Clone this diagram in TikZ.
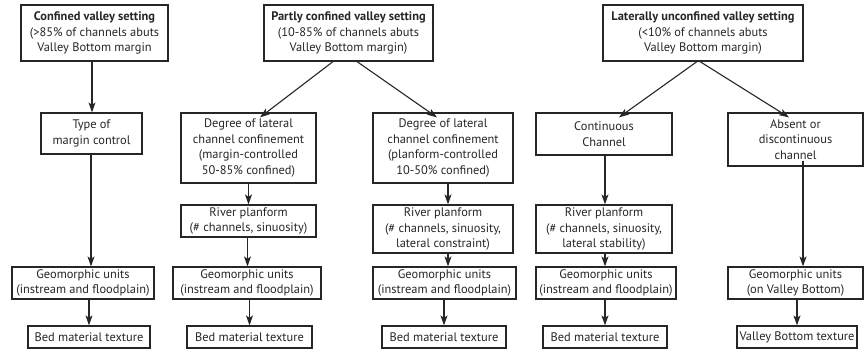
\documentclass[tikz,border=0pt]{standalone}
\usepackage{fontspec}
\setmainfont{PT Sans}
\usetikzlibrary{arrows.meta}
\definecolor{ln}{HTML}{262626}
\tikzset{
  box/.style={draw=ln, line width=1.2pt, align=center, inner sep=1pt, text=ln,
    font=\fontsize{12.4}{15.6}\selectfont},
  arr/.style={draw=ln, line width=1.1pt, -{Stealth[length=10pt,width=7pt,inset=2.5pt]}}
}
\begin{document}
\begin{tikzpicture}[x=1pt,y=-1pt]
\useasboundingbox (0,0) rectangle (865,352);
% top row
\node[box, minimum width=147pt, minimum height=56pt] (t1) at (94.5,33) {\textbf{Confined valley setting}\\(>85\% of channels abuts\\Valley Bottom margin};
\node[box, minimum width=169pt, minimum height=56pt] (t2) at (348.5,33) {\textbf{Partly confined valley setting}\\(10-85\% of channels abuts\\Valley Bottom margin)};
\node[box, minimum width=200pt, minimum height=56pt] (t3) at (703,33) {\textbf{Laterally unconfined valley setting}\\(<10\% of channels abuts\\Valley Bottom margin)};
% second row
\node[box, minimum width=101pt, minimum height=41pt] (type) at (91.5,133.5) {Type of\\margin control};
\node[box, minimum width=135pt, minimum height=70pt] (deg1) at (248.5,148) {Degree of lateral\\channel confinement\\(margin-controlled\\50-85\% confined)};
\node[box, minimum width=140pt, minimum height=70pt] (deg2) at (443,148) {Degree of lateral\\channel confinement\\(planform-controlled\\10-50\% confined)};
\node[box, minimum width=136pt, minimum height=42pt] (cont) at (604,134) {Continuous\\Channel};
\node[box, minimum width=135pt, minimum height=53pt] (abs) at (795.5,139.5) {Absent or\\discontinuous\\channel};
% river planform
\node[box, minimum width=135pt, minimum height=32pt] (riv1) at (248.5,221) {River planform\\(\# channels, sinuosity)};
\node[box, minimum width=140pt, minimum height=48pt] (riv2) at (443,229) {River planform\\(\# channels, sinuosity,\\lateral constraint)};
\node[box, minimum width=136pt, minimum height=48pt] (riv3) at (604,229) {River planform\\(\# channels, sinuosity,\\lateral stability)};
% geomorphic units
\node[box, minimum width=142pt, minimum height=32pt] (geo1) at (83,283) {Geomorphic units\\(instream and floodplain)};
\node[box, minimum width=148pt, minimum height=32pt] (geo2) at (247,283) {Geomorphic units\\(instream and floodplain)};
\node[box, minimum width=143pt, minimum height=32pt] (geo3) at (444.5,283) {Geomorphic units\\(instream and floodplain)};
\node[box, minimum width=140pt, minimum height=32pt] (geo4) at (606,283) {Geomorphic units\\(instream and floodplain)};
\node[box, minimum width=135pt, minimum height=32pt] (geo5) at (795.5,283) {Geomorphic units\\(on Valley Bottom)};
% texture
\node[box, minimum width=122pt, minimum height=22pt] (bed1) at (89,337) {Bed material texture};
\node[box, minimum width=125pt, minimum height=22pt] (bed2) at (249.5,337) {Bed material texture};
\node[box, minimum width=124pt, minimum height=22pt] (bed3) at (444,337) {Bed material texture};
\node[box, minimum width=124pt, minimum height=22pt] (bed4) at (605,337) {Bed material texture};
\node[box, minimum width=120pt, minimum height=22pt] (bed5) at (797,337) {Valley Bottom texture};
% arrows
\draw[arr] ([xshift=-2.5pt]t1.south) -- ([xshift=-2.5pt]t1.south |- type.north);
\draw[arr] ([xshift=-0.5pt]type.south) -- ([xshift=-0.5pt]type.south |- geo1.north);
\draw[arr] (bed1.north |- geo1.south) -- (bed1.north);
\draw[arr] ([xshift=-15.5pt]t2.south) -- ([xshift=11.5pt,yshift=-5pt]deg1.north);
\draw[arr] ([xshift=8.5pt]t2.south) -- ([xshift=-6pt,yshift=-5pt]deg2.north);
\draw[arr] (deg1.south) -- (riv1.north);
\draw[arr] ([xshift=-1pt]riv1.south) -- ([xshift=-1pt]riv1.south |- geo2.north);
\draw[arr] (bed2.north |- geo2.south) -- (bed2.north);
\draw[arr] ([xshift=5pt]deg2.south) -- ([xshift=5pt]deg2.south |- riv2.north);
\draw[arr] ([xshift=5pt]riv2.south) -- ([xshift=5pt]riv2.south |- geo3.north);
\draw[arr] (bed3.north |- geo3.south) -- (bed3.north);
\draw[arr] ([xshift=-6pt]t3.south) -- ([xshift=15pt,yshift=-5pt]cont.north);
\draw[arr] ([xshift=-3pt]t3.south) -- ([xshift=-6.5pt,yshift=-5pt]abs.north);
\draw[arr] ([xshift=1pt]cont.south) -- ([xshift=1pt]cont.south |- riv3.north);
\draw[arr] ([xshift=1pt]riv3.south) -- ([xshift=1pt]riv3.south |- geo4.north);
\draw[arr] (bed4.north |- geo4.south) -- (bed4.north);
\draw[arr] ([xshift=7.5pt,yshift=6pt]abs.south) -- ([xshift=7.5pt]abs.south |- geo5.north);
\draw[arr] (bed5.north |- geo5.south) -- (bed5.north);
\end{tikzpicture}
\end{document}
